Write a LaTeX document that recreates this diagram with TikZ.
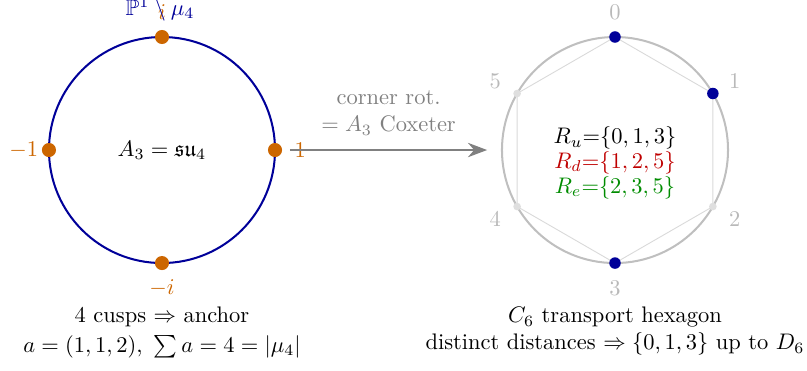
\documentclass[tikz,border=0pt]{standalone}
\usepackage{amsmath,amssymb}
\usetikzlibrary{arrows.meta}
\begin{document}
\begin{tikzpicture}[cusp/.style={circle, fill=orange!80!black, inner sep=0pt, minimum size=2.2mm},
    site/.style={circle, fill=blue!60!black, inner sep=0pt, minimum size=1.8mm},
    ghost/.style={circle, fill=gray!25, inner sep=0pt, minimum size=1.2mm},
    tag/.style={text=gray!55, font=\normalsize}]
    \useasboundingbox (-2.531,-3.438) rectangle (10.078,2.344);
    % left: P^1 minus mu_4
    \draw[blue!60!black, line width=0.9pt] (0,0) circle (1.766);
    \node (c) at (0,0) {$A_3=\mathfrak{su}_4$};
    \foreach \ang/\lab/\nm in {0/$1$/p, 90/$i$/q, 180/$-1$/r, 270/$-i$/s} {
        \node[cusp] (\nm) at (\ang:1.766) {};
        \node[text=orange!80!black] (\nm l) at (\ang:2.16) {\lab};
    }
    \node[text=blue!60!black] (pm) at (-0.03,2.2) {$\mathbb{P}^1\setminus\mu_4$};
    \node[align=center] (lcap) at (0,-2.85) {4 cusps $\Rightarrow$ anchor\\[1pt] $a=(1,1,2),\ \sum a=4=|\mu_4|$};
    % right: transport hexagon
    \begin{scope}[xshift=7.078cm]
        \draw[gray!50, line width=0.9pt] (0,0) circle (1.766);
        \draw[gray!30, line width=0.4pt] (90:1.766) -- (30:1.766) -- (-30:1.766) -- (-90:1.766)
            -- (-150:1.766) -- (150:1.766) -- cycle;
        \foreach \k in {0,...,5}
            \node[tag] (t\k) at (90-60*\k:2.16) {\k};
        \foreach \k in {2,4,5}
            \node[ghost] (h\k) at (90-60*\k:1.766) {};
        \foreach \k in {0,1,3}
            \node[site] (h\k) at (90-60*\k:1.766) {};
        \node[align=center] (sets) at (0,-0.2) {$R_u{=}\{0,1,3\}$\\[-1pt]
            \textcolor{red!75!black}{$R_d{=}\{1,2,5\}$}\\[-1pt]
            \textcolor{green!55!black}{$R_e{=}\{2,3,5\}$}};
        \node[align=center] (rcap) at (0,-2.83) {$C_6$ transport hexagon\\ distinct distances $\Rightarrow\{0,1,3\}$ up to $D_6$};
    \end{scope}
    % corner rotation arrow
    \coordinate (a0) at (2.0,0);
    \coordinate (a1) at (5.08,0);
    \draw[gray, line width=0.8pt, -{Stealth[length=3mm]}] (a0) -- (a1)
        node[midway, above=1mm, align=center, text=gray] {corner rot.\\ $=A_3$ Coxeter};
\end{tikzpicture}
\end{document}
